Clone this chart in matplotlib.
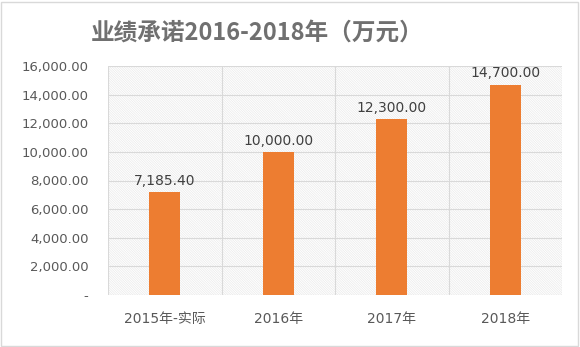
import matplotlib
matplotlib.use('Agg')
import matplotlib.pyplot as plt
from matplotlib.patches import Rectangle

plt.rcParams['font.family'] = ['DejaVu Sans', 'Noto Sans CJK SC']
plt.rcParams['hatch.linewidth'] = 0.5

categories = ['2015年-实际', '2016年', '2017年', '2018年']
values = [7185.40, 10000.00, 12300.00, 14700.00]
yticks = [0, 2000, 4000, 6000, 8000, 10000, 12000, 14000, 16000]

fig = plt.figure(figsize=(5.8, 3.47), dpi=100)
ax = fig.add_axes([108/580, 1-295/347, (562-108)/580, (295-66)/347])

# hatched plot background
ax.add_patch(Rectangle((0, 0), 1, 1, transform=ax.transAxes, facecolor='white',
                       edgecolor='#eaeaea', hatch='\\' * 14, lw=0, zorder=0))

x = range(len(categories))
bars = ax.bar(x, values, width=0.27, color='#ED7D31', zorder=3)
for b, v in zip(bars, values):
    ax.text(b.get_x() + b.get_width()/2, v + 300, f'{v:,.2f}', ha='center', va='bottom',
            fontsize=10, color='#404040', zorder=4)

ax.set_xlim(-0.5, len(categories) - 0.5)
ax.set_ylim(0, 16000)
ax.set_yticks(yticks)
ax.set_yticklabels(['-' if t == 0 else f'{t:,.2f}' for t in yticks])
ax.set_xticks(list(x))
ax.set_xticklabels(categories)
ax.tick_params(axis='both', length=0, labelsize=10, labelcolor='#595959')
ax.tick_params(axis='y', pad=14, labelsize=9.5)
ax.tick_params(axis='x', pad=12)

# grid: horizontal at ticks, vertical at category boundaries
for t in yticks:
    ax.axhline(t, color='#d9d9d9', lw=0.8, zorder=1)
for b in [-0.5, 0.5, 1.5, 2.5, 3.5]:
    ax.axvline(b, color='#d9d9d9', lw=0.8, zorder=1)
for s in ax.spines.values():
    s.set_visible(False)

fig.text(257/580, 1-33/347, '业绩承诺2016-2018年（万元）', ha='center', va='center',
         fontsize=17, fontweight='bold', color='#707070',
         family=['Noto Sans CJK SC', 'DejaVu Sans'])

fig.patches.append(Rectangle((0.002, 0.003), 0.994, 0.992, transform=fig.transFigure,
                             fill=False, edgecolor='#d9d9d9', lw=1))

fig.savefig('out.png', dpi=100)
